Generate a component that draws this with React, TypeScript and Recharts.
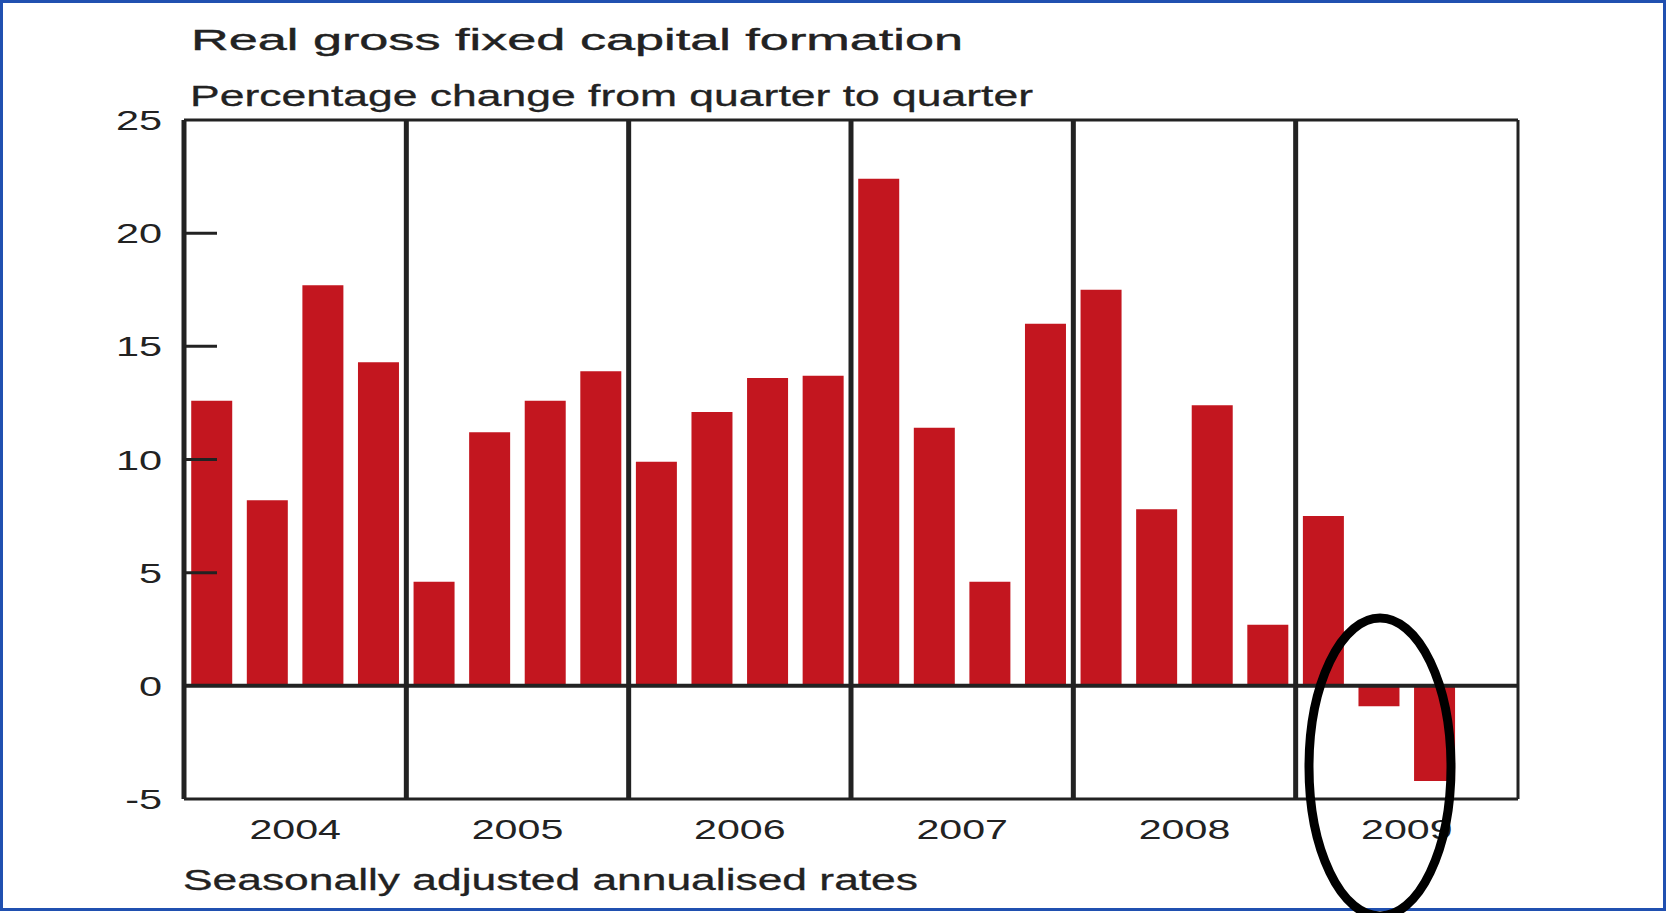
import React from 'react';
import { BarChart, Bar, XAxis, YAxis, ReferenceLine } from 'recharts';

const quarters = [
  '2004Q1', '2004Q2', '2004Q3', '2004Q4',
  '2005Q1', '2005Q2', '2005Q3', '2005Q4',
  '2006Q1', '2006Q2', '2006Q3', '2006Q4',
  '2007Q1', '2007Q2', '2007Q3', '2007Q4',
  '2008Q1', '2008Q2', '2008Q3', '2008Q4',
  '2009Q1', '2009Q2', '2009Q3', '2009Q4',
];
const growth: (number | null)[] = [
  12.6, 8.2, 17.7, 14.3,
  4.6, 11.2, 12.6, 13.9,
  9.9, 12.1, 13.6, 13.7,
  22.4, 11.4, 4.6, 16.0,
  17.5, 7.8, 12.4, 2.7,
  7.5, -0.9, -4.2, null,
];
const years = ['2004', '2005', '2006', '2007', '2008', '2009'];
const yTicks = [-5, 0, 5, 10, 15, 20, 25];

const titleText = 'Real gross fixed capital formation';
const subtitleText = 'Percentage change from quarter to quarter';
const footnoteText = 'Seasonally adjusted annualised rates';

const data = quarters.map((q, i) => ({ q, value: growth[i] }));
const yearStarts = years.slice(1).map((y) => `${y}Q1`);
const lastQuarter = quarters[quarters.length - 1];

const INK = '#222222';
const RED = '#c3161f';
const FONT = '"Liberation Sans", Arial, Helvetica, sans-serif';

const YTick = (props: any) => {
  const { x, y, payload } = props;
  const v = payload.value as number;
  return (
    <g>
      {v > 0 && v < 25 && (
        <line x1={x} x2={x + 33} y1={y} y2={y} stroke={INK} strokeWidth={3} />
      )}
      <text
        transform={`translate(${x - 22},${y + 10}) scale(1.48,1)`}
        textAnchor="end"
        fontSize={28}
        fontFamily={FONT}
        fill={INK}
      >
        {String(v)}
      </text>
    </g>
  );
};

const XTick = (props: any) => {
  const { x, y, payload } = props;
  const q = String(payload.value);
  if (!q.endsWith('Q2')) return <g />;
  const half = typeof payload.offset === 'number' && payload.offset > 0 ? payload.offset : 27.8;
  return (
    <text
      transform={`translate(${x + half},${y + 40}) scale(1.47,1)`}
      textAnchor="middle"
      fontSize={28}
      fontFamily={FONT}
      fill={INK}
    >
      {q.slice(0, 4)}
    </text>
  );
};

export default function App() {
  return (
    <div style={{ position: 'absolute', left: 0, top: 0, width: 1667, height: 913, background: '#fff' }}>
      <BarChart
        width={1667}
        height={913}
        data={data}
        margin={{ top: 120, right: 149, bottom: 0, left: 0 }}
        barCategoryGap="13%"
      >
        <XAxis
          dataKey="q"
          height={114}
          tickSize={0}
          tickMargin={0}
          tickLine={false}
          axisLine={{ stroke: INK, strokeWidth: 3 }}
          tick={<XTick />}
          interval={0}
        />
        <YAxis
          domain={[-5, 25]}
          ticks={yTicks}
          allowDataOverflow
          width={184}
          tickSize={0}
          tickMargin={0}
          tickLine={false}
          axisLine={{ stroke: INK, strokeWidth: 5 }}
          tick={<YTick />}
          interval={0}
        />
        <Bar dataKey="value" fill={RED} isAnimationActive={false} />
        <ReferenceLine y={0} stroke={INK} strokeWidth={4} />
        <ReferenceLine y={25} stroke={INK} strokeWidth={3} />
        {yearStarts.map((q) => (
          <ReferenceLine key={q} x={q} position="start" stroke={INK} strokeWidth={5} />
        ))}
        <ReferenceLine x={lastQuarter} position="end" stroke={INK} strokeWidth={3} />
      </BarChart>
      <svg
        width={1667}
        height={913}
        style={{ position: 'absolute', left: 0, top: 0, pointerEvents: 'none' }}
      >
        <rect x={1.5} y={1.5} width={1663} height={908} fill="none" stroke="#2050b0" strokeWidth={3} />
        <text x={191} y={50} fontSize={30} fontFamily={FONT} fill={INK} stroke={INK} strokeWidth={0.4} textLength={772} lengthAdjust="spacingAndGlyphs">
          {titleText}
        </text>
        <text x={190} y={106} fontSize={29} fontFamily={FONT} fill={INK} stroke={INK} strokeWidth={0.3} textLength={843} lengthAdjust="spacingAndGlyphs">
          {subtitleText}
        </text>
        <text x={183} y={890} fontSize={29} fontFamily={FONT} fill={INK} stroke={INK} strokeWidth={0.3} textLength={735} lengthAdjust="spacingAndGlyphs">
          {footnoteText}
        </text>
        <ellipse cx={1380} cy={767} rx={71} ry={149} fill="none" stroke="#000" strokeWidth={9} />
      </svg>
    </div>
  );
}
